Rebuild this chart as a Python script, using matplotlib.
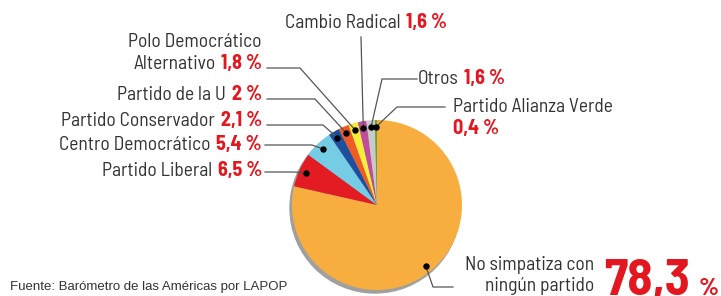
import numpy as np
import matplotlib
matplotlib.use("Agg")
from matplotlib import pyplot as plt
from matplotlib.patches import Circle
from matplotlib.offsetbox import TextArea, HPacker, VPacker, AnnotationBbox

parties = ["No simpatiza con ningún partido", "Partido Liberal", "Centro Democrático",
           "Partido Conservador", "Partido de la U", "Polo Democrático Alternativo",
           "Cambio Radical", "Otros", "Partido Alianza Verde"]
shares = [78.3, 6.5, 5.4, 2.1, 2.0, 1.8, 1.6, 1.6, 0.4]
source = "Fuente: Barómetro de las Américas por LAPOP"

colors = ["#F8AE3E", "#E31B23", "#74CDE4", "#1D4F9F", "#F05A24",
          "#F6EC3A", "#C14B9C", "#C9C9C9", "#5FA33A"]

W, H = 721, 296
NARROW = ["Barlow Semi Condensed", "Archivo Narrow", "Liberation Sans", "DejaVu Sans"]
NARROW_B = ["Barlow Semi Condensed", "Barlow Condensed", "Liberation Sans", "DejaVu Sans"]
GREY_TXT = "#333333"
RED_TXT = "#E3171F"
FS = 14


def py(y):
    # pixel row (top-down) -> data y
    return H - y


def fmt(v):
    return f"{v:g}".replace(".", ",") + " %"


def name_text(s):
    return TextArea(s, textprops=dict(family=NARROW, size=FS, color=GREY_TXT))


def value_text(v):
    return TextArea(fmt(v), textprops=dict(family=NARROW_B, size=FS + 0.5,
                                           color=RED_TXT, weight="bold"))


fig = plt.figure(figsize=(W / 100, H / 100), dpi=100)
ax = fig.add_axes([0, 0, 1, 1])

cx, cy, R = 377, 205, 85
ax.add_patch(Circle((cx - 2, py(cy) - 3), R, color="#A0A0A0", zorder=0))
wedges, _ = ax.pie(shares, colors=colors, startangle=90, counterclock=False,
                   center=(cx, py(cy)), radius=R,
                   wedgeprops=dict(linewidth=0))
ax.set_xlim(0, W)
ax.set_ylim(0, H)
ax.set_aspect("auto")
ax.axis("off")

# leader line elbows (pixel coords), one path per slice, from label to dot
leaders = [
    [(453, 287), (433, 287)],
    [(265, 172), (293, 172)],
    [(265, 145), (312, 145)],
    [(267, 125), (323, 125)],
    [(267, 99), (315, 99)],
    [(267, 68), (300, 68)],
    [(361, 37)],
    [(417, 79), (382, 79)],
    [(445, 107), (397, 107)],
]

for w, path in zip(wedges, leaders):
    mid = np.deg2rad((w.theta1 + w.theta2) / 2)
    dx = cx + 0.92 * R * np.cos(mid)
    dy = py(cy) + 0.92 * R * np.sin(mid)
    xs = [p[0] for p in path] + [dx]
    ys = [py(p[1]) for p in path] + [dy]
    ax.plot(xs, ys, color="#555555", lw=0.9, zorder=3)
    ax.plot(dx, dy, "o", color="black", ms=3.6, zorder=4)


def label_box(name, value):
    return HPacker(children=[name_text(name), value_text(value)],
                   align="baseline", pad=0, sep=4)


def place(box, x, y, align):
    ab = AnnotationBbox(box, (x, py(y)), xycoords="data", box_alignment=align,
                        frameon=False, pad=0)
    ax.add_artist(ab)


# left side labels, right aligned
place(label_box(parties[1], shares[1]), 262, 171, (1, 0.5))
place(label_box(parties[2], shares[2]), 262, 144, (1, 0.5))
place(label_box(parties[3], shares[3]), 262, 120, (1, 0.5))
place(label_box(parties[4], shares[4]), 262, 94, (1, 0.5))
polo = VPacker(children=[name_text("Polo Democrático"),
                         label_box("Alternativo", shares[5])],
               align="right", pad=0, sep=2)
place(polo, 262, 53, (1, 0.5))

# top labels
place(label_box(parties[6], shares[6]), 285, 22, (0, 0.5))
place(label_box(parties[7], shares[7]), 418, 79, (0, 0.5))
verde = VPacker(children=[name_text(parties[8]), value_text(shares[8])],
                align="left", pad=0, sep=2)
place(verde, 453, 118, (0, 0.5))

# main slice label
ax.text(594, py(265), "No simpatiza con", family=NARROW, size=FS, color=GREY_TXT,
        ha="right", va="center")
ax.text(594, py(286), "ningún partido", family=NARROW, size=FS, color=GREY_TXT,
        ha="right", va="center")
big = fmt(shares[0]).split(" ")
ax.text(604, py(295), big[0], family=NARROW_B, size=37, color=RED_TXT,
        weight="bold", ha="left", va="baseline")
ax.text(699, py(295), big[1], family=NARROW_B, size=18, color=RED_TXT,
        weight="bold", ha="left", va="baseline")

ax.text(10, py(287), source, family=["Liberation Sans", "DejaVu Sans"], size=9.5,
        color=GREY_TXT, ha="left", va="center")

fig.savefig("out.png", dpi=100, facecolor="white")
